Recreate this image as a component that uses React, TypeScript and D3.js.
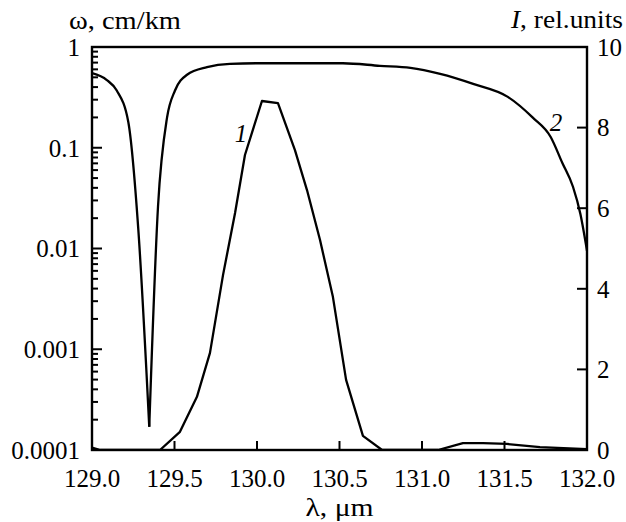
import React from "react";
import * as d3 from "d3";

const xTicks = [129.0, 129.5, 130.0, 130.5, 131.0, 131.5, 132.0];
const leftTicks = [1, 0.1, 0.01, 0.001, 0.0001];
const leftTickLabels = ["1", "0.1", "0.01", "0.001", "0.0001"];
const rightTicks = [0, 2, 4, 6, 8, 10];

// curve 1: intensity I (rel. units), right axis
const lambda1 = [129.0, 129.05, 129.412, 129.533, 129.636, 129.715, 129.794, 129.867, 129.927, 130.03, 130.127, 130.23, 130.303, 130.382, 130.46, 130.54, 130.642, 130.758, 131.097, 131.248, 131.37, 131.515, 131.715, 132.0];
const intensity1 = [0.06, 0, 0, 0.45, 1.32, 2.41, 4.34, 5.88, 7.32, 8.66, 8.61, 7.44, 6.45, 5.21, 3.8, 1.74, 0.35, 0, 0, 0.17, 0.17, 0.15, 0.07, 0.02];

// curve 2: omega (cm/km), left log axis
const lambda2 = [129.0, 129.09, 129.15, 129.22, 129.28, 129.347, 129.4, 129.455, 129.503, 129.576, 129.697, 129.836, 130.018, 130.32, 130.52, 130.745, 130.93, 131.11, 131.31, 131.52, 131.67, 131.78, 131.85, 131.915, 131.96, 132.0];
const omega2 = [0.55, 0.47, 0.37, 0.18, 0.016, 0.00017, 0.026, 0.2, 0.37, 0.53, 0.63, 0.68, 0.69, 0.69, 0.69, 0.65, 0.62, 0.54, 0.43, 0.32, 0.2, 0.128, 0.071, 0.041, 0.022, 0.0095];
const dipIndex = 5;

const TXT: React.CSSProperties = { fontFamily: "Liberation Serif", fontSize: 25 };
const TXTI: React.CSSProperties = { fontFamily: "Liberation Serif", fontSize: 25, fontStyle: "italic" };

export default function App() {
  const L = 92, R = 587, T = 47, B = 450;
  const x = d3.scaleLinear().domain([129, 132]).range([L, R]);
  const yL = d3.scaleLog().domain([1e-4, 1]).range([B, T]);
  const yR = d3.scaleLinear().domain([0, 10]).range([B, T]);

  const line1 = d3.line<number>().x((i) => x(lambda1[i])).y((i) => yR(intensity1[i]));
  const line2 = d3
    .line<number>()
    .x((i) => x(lambda2[i]))
    .y((i) => yL(omega2[i]))
    .curve(d3.curveMonotoneX);

  const idx1 = lambda1.map((_, i) => i);
  const idx2a = lambda2.map((_, i) => i).filter((i) => i <= dipIndex);
  const idx2b = lambda2.map((_, i) => i).filter((i) => i >= dipIndex);

  const minor: number[] = [];
  for (let e = -4; e < 0; e++) {
    for (let m = 2; m <= 9; m++) minor.push(m * Math.pow(10, e));
  }

  return (
    <svg width={626} height={522} style={{ position: "absolute", left: 0, top: 0, background: "#fff" }}>
      <rect x={0} y={0} width={626} height={522} fill="#fff" />
      <defs>
        <clipPath id="plot">
          <rect x={L} y={T} width={R - L} height={B - T} />
        </clipPath>
      </defs>
      <g clipPath="url(#plot)" fill="none" stroke="#000" strokeWidth={2.3} strokeLinejoin="round">
        <path d={line1(idx1) || ""} />
        <path d={line2(idx2a) || ""} />
        <path d={line2(idx2b) || ""} />
      </g>
      {leftTicks.map((t) => (
        <line key={"lt" + t} x1={L} x2={L + 10} y1={yL(t)} y2={yL(t)} stroke="#000" strokeWidth={2} />
      ))}
      {minor.map((t) => (
        <line key={"lm" + t} x1={L} x2={L + 6} y1={yL(t)} y2={yL(t)} stroke="#000" strokeWidth={2} />
      ))}
      {rightTicks.map((t) => (
        <line key={"rt" + t} x1={R - 10} x2={R} y1={yR(t)} y2={yR(t)} stroke="#000" strokeWidth={2} />
      ))}
      {xTicks.map((t) => (
        <line key={"xt" + t} x1={x(t)} x2={x(t)} y1={B} y2={B - 9} stroke="#000" strokeWidth={2} />
      ))}
      <rect x={L} y={T} width={R - L} height={B - T} fill="none" stroke="#000" strokeWidth={2.4} />
      {leftTicks.map((t, i) => (
        <text key={"ll" + t} x={80} y={yL(t)} dy="0.35em" textAnchor="end" style={TXT}>{leftTickLabels[i]}</text>
      ))}
      {rightTicks.map((t) => (
        <text key={"rl" + t} x={597} y={yR(t)} dy="0.35em" textAnchor="start" style={TXT}>{t}</text>
      ))}
      {xTicks.map((t) => (
        <text key={"xl" + t} x={x(t)} y={487} textAnchor="middle" style={TXT}>{t.toFixed(1)}</text>
      ))}
      <text x={(L + R) / 2} y={516} textAnchor="middle" style={TXT} textLength={68} lengthAdjust="spacingAndGlyphs">λ, μm</text>
      <text x={69} y={29} style={TXT} textLength={112} lengthAdjust="spacingAndGlyphs">ω, cm/km</text>
      <text x={511} y={28} style={TXT} textLength={112} lengthAdjust="spacingAndGlyphs"><tspan style={TXTI}>I</tspan>, rel.units</text>
      <text x={241} y={142} textAnchor="middle" style={TXTI}>1</text>
      <text x={556} y={131} textAnchor="middle" style={TXTI}>2</text>
    </svg>
  );
}
